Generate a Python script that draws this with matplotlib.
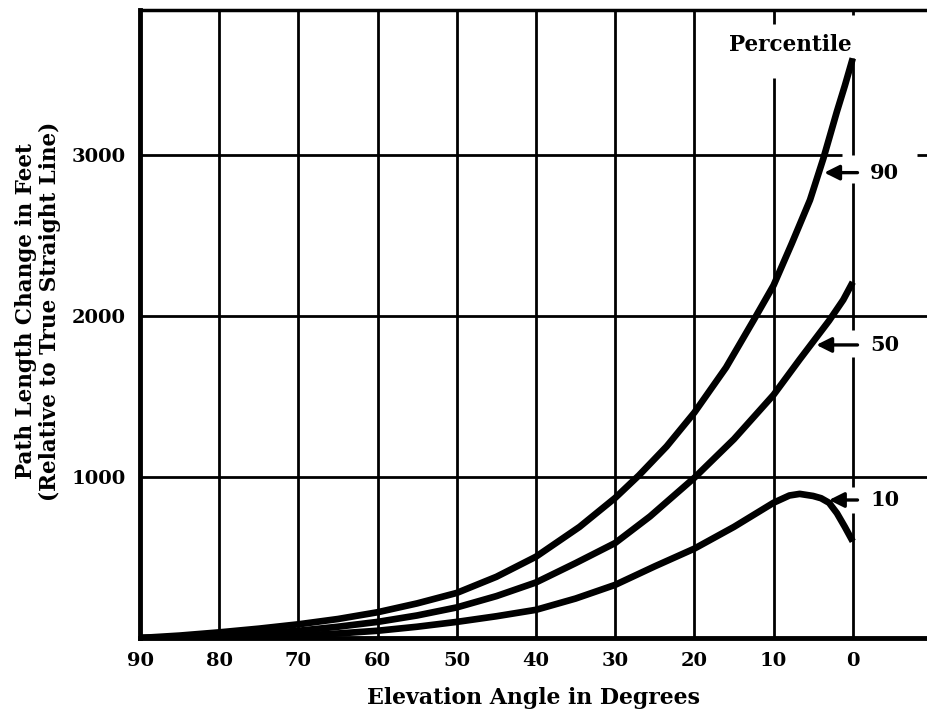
import matplotlib

matplotlib.use("Agg")
import matplotlib.pyplot as plt

# elevation angle (deg) and path length change (ft) for each percentile
angle_90 = [90, 85, 80, 75, 70, 65, 60, 55, 50, 45, 40, 34.5, 30, 27, 23.5, 20, 16, 12.5,
            10, 7.7, 5.4, 3.7, 2, 1, 0]
path_90 = [0, 15, 35, 58, 85, 118, 160, 215, 280, 380, 505, 690, 870, 1010, 1190, 1400,
           1680, 1975, 2190, 2450, 2720, 2980, 3270, 3430, 3600]

angle_50 = [90, 85, 80, 75, 70, 65, 60, 55, 50, 45, 40, 35, 30, 25.6, 20, 15, 10, 6.7,
            3, 1.2, 0]
path_50 = [0, 6, 15, 28, 45, 70, 100, 140, 190, 260, 345, 465, 590, 755, 995, 1235,
           1510, 1730, 1970, 2100, 2210]

angle_10 = [90, 80, 75, 70, 65, 60, 55, 50, 45, 40, 35, 30, 25, 20, 15, 10, 8, 6.7, 5,
            4, 3, 2, 1, 0]
path_10 = [0, 5, 9, 15, 28, 45, 70, 100, 135, 175, 245, 330, 445, 555, 690, 840, 885,
           895, 882, 868, 840, 775, 690, 600]

labels = ["90", "50", "10"]
label_y = [2890, 1820, 857]
arrow_tip = [3.6, 4.6, 3.0]

x_ticks = [90, 80, 70, 60, 50, 40, 30, 20, 10, 0]
y_ticks = [1000, 2000, 3000]

serif = "DejaVu Serif"

fig = plt.figure(figsize=(9.28, 7.14), dpi=100)
ax = fig.add_axes([140 / 928, 1 - 638 / 714, 1 - 140 / 928, 628 / 714])
ax.set_xlim(90, -9.5)
ax.set_ylim(0, 3900)

# grid, drawn by hand so the lines can break around the annotations
for x in [80, 70, 60, 50, 40, 30, 20]:
    ax.vlines(x, 0, 3900, color="k", lw=2, zorder=1)
ax.vlines(10, 0, 3480, color="k", lw=2, zorder=1)
ax.vlines(10, 3810, 3900, color="k", lw=2, zorder=1)
for lo, hi in [(0, 776), (938, 1745), (1913, 2826), (3000, 3600), (3870, 3900)]:
    ax.vlines(0, lo, hi, color="k", lw=2, zorder=1)
ax.hlines([1000, 2000], 90, -9.5, color="k", lw=2, zorder=1)
ax.hlines(3000, 90, 1.4, color="k", lw=2, zorder=1)
ax.hlines(3000, -8.1, -9.5, color="k", lw=2, zorder=1)

for a, p in [(angle_90, path_90), (angle_50, path_50), (angle_10, path_10)]:
    ax.plot(a, p, color="k", lw=4.8, solid_capstyle="butt",
            solid_joinstyle="round", zorder=3)

for lab, yv, tip in zip(labels, label_y, arrow_tip):
    ax.annotate("", xy=(tip, yv), xytext=(-0.6, yv),
                arrowprops=dict(arrowstyle="-|>,head_length=0.9,head_width=0.45",
                                color="k", lw=2.4, shrinkA=0, shrinkB=0), zorder=4)
    ax.text(-2.2, yv, lab, ha="left", va="center", fontsize=15,
            family=serif, fontweight="bold")

ax.text(0.1, 3680, "Percentile", ha="right", va="center", fontsize=15.5,
        family=serif, fontweight="bold")

ax.spines["right"].set_visible(False)
for side in ["left", "bottom"]:
    ax.spines[side].set_linewidth(3.5)
ax.spines["top"].set_linewidth(2.5)

ax.set_xticks(x_ticks)
ax.set_xticklabels([str(v) for v in x_ticks])
ax.set_yticks(y_ticks)
ax.set_yticklabels([str(v) for v in y_ticks])
ax.tick_params(length=0, pad=10, labelsize=14)
for t in ax.get_xticklabels() + ax.get_yticklabels():
    t.set_family(serif)
    t.set_fontweight("bold")

ax.set_xlabel("Elevation Angle in Degrees", fontsize=15.8, family=serif,
              fontweight="bold", labelpad=12)
ax.set_ylabel("Path Length Change in Feet\n(Relative to True Straight Line)",
              fontsize=15.5, family=serif, fontweight="bold", linespacing=1.12)
ax.yaxis.set_label_coords(-0.100, 0.52)

fig.savefig("out.png", dpi=100)
